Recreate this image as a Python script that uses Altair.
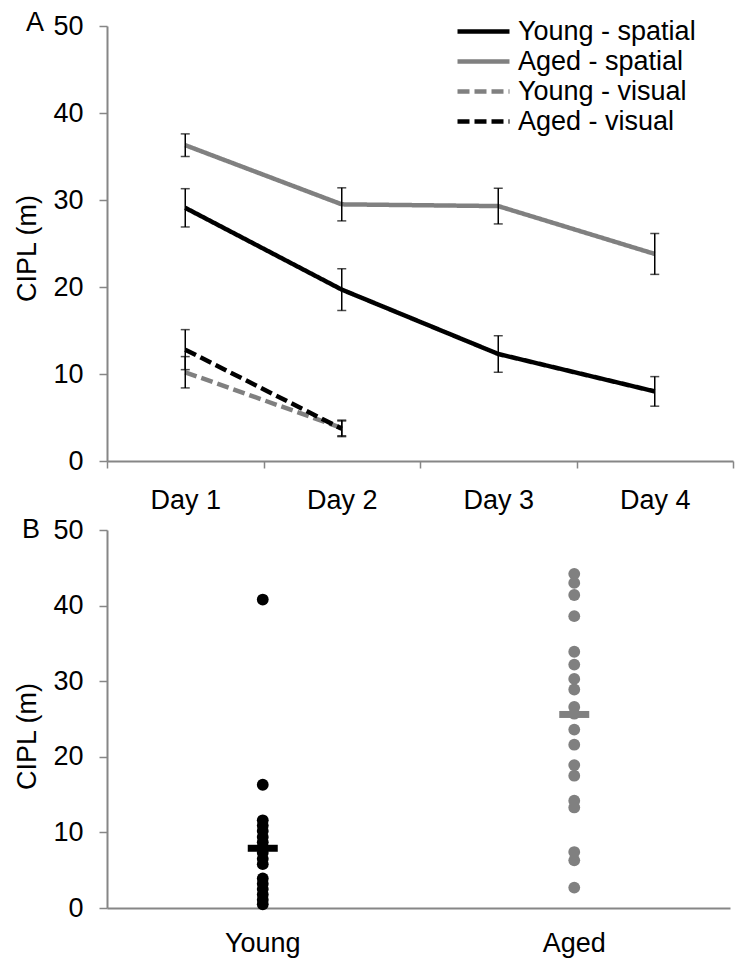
import altair as alt
import pandas as pd

# ---------------- data ----------------
days = ["Day 1", "Day 2", "Day 3", "Day 4"]
series_names = ["Young - spatial", "Aged - spatial", "Young - visual", "Aged - visual"]
series_colors = ["#000000", "#808080", "#808080", "#000000"]
series_dashes = [[1, 0], [1, 0], [12, 5], [12, 5]]

young_spatial = [29.1, 19.7, 12.3, 8.0]
young_spatial_err = [2.2, 2.4, 2.1, 1.7]
aged_spatial = [36.3, 29.5, 29.3, 23.8]
aged_spatial_err = [1.3, 1.9, 2.05, 2.35]
young_visual = [10.2, 3.8]
young_visual_err = [1.8, 0.9]
aged_visual = [12.8, 3.7]
aged_visual_err = [2.3, 0.9]

groups = ["Young", "Aged"]
group_colors = ["#000000", "#808080"]
young_cipl = [40.8, 16.3, 11.6, 10.9, 10.2, 9.4, 8.7, 8.0, 7.3, 6.5, 5.8,
              3.9, 3.2, 2.5, 1.8, 1.1, 0.5]
aged_cipl = [44.2, 43.0, 41.4, 38.6, 33.9, 32.2, 30.3, 28.9, 26.6, 25.7,
             23.6, 21.6, 18.9, 17.5, 14.2, 13.3, 7.4, 6.3, 2.7]
group_means = [7.9, 25.6]

panel_labels = ["A", "B"]
y_ticks = [0, 10, 20, 30, 40, 50]

FONT = "Liberation Sans"
FS = 27
AXIS_GREY = "#868686"

# ---------------- panel A ----------------
rows = []
for name, vals, errs in [
    (series_names[0], young_spatial, young_spatial_err),
    (series_names[1], aged_spatial, aged_spatial_err),
    (series_names[2], young_visual, young_visual_err),
    (series_names[3], aged_visual, aged_visual_err),
]:
    for d, v, e in zip(days, vals, errs):
        rows.append({"day": d, "series": name, "value": v, "lo": v - e, "hi": v + e})
dfA = pd.DataFrame(rows)

xA = alt.X(
    "day:N",
    sort=days,
    scale=alt.Scale(type="band", domain=days, paddingInner=0, paddingOuter=0),
    axis=alt.Axis(title=None, tickBand="extent", labelAngle=0, tickSize=7,
                  labelPadding=19, labelFontSize=FS),
)
yA_axis = alt.Axis(values=y_ticks, title="CIPL (m)", tickSize=8, labelPadding=16,
                   titlePadding=11, labelFontSize=FS, titleFontSize=FS, titleY=222)
yscale = alt.Scale(domain=[0, 50], nice=False)

legend = alt.Legend(
    title=None, orient="none", legendX=361, legendY=-10, symbolType="M-2,0H2",
    symbolSize=676, symbolStrokeWidth=4.5, labelFontSize=FS, labelFont=FONT,
    labelOffset=19, rowPadding=1, padding=0, labelColor="black", labelLimit=400,
)
color_enc = alt.Color("series:N", scale=alt.Scale(domain=series_names, range=series_colors),
                      legend=legend)
dash_enc = alt.StrokeDash("series:N", scale=alt.Scale(domain=series_names, range=series_dashes),
                          legend=legend)

base = alt.Chart(dfA)
lines = base.mark_line(strokeWidth=4.5).encode(
    x=xA,
    y=alt.Y("value:Q", scale=yscale, axis=yA_axis),
    color=color_enc,
    strokeDash=dash_enc,
    detail="series:N",
)
err_rule = base.mark_rule(color="black", strokeWidth=1.5).encode(
    x=xA, y=alt.Y("lo:Q", scale=yscale), y2="hi:Q"
)
err_lo = base.mark_tick(color="black", thickness=1.5, size=9).encode(
    x=xA, y=alt.Y("lo:Q", scale=yscale)
)
err_hi = base.mark_tick(color="black", thickness=1.5, size=9).encode(
    x=xA, y=alt.Y("hi:Q", scale=yscale)
)
labA = alt.Chart(pd.DataFrame({"t": [panel_labels[0]]})).mark_text(
    fontSize=FS, font=FONT, align="left", baseline="middle", color="black"
).encode(text="t:N", x=alt.value(-81), y=alt.value(-3))

panelA = alt.layer(lines, err_rule, err_lo, err_hi, labA).properties(width=626, height=435)

# ---------------- panel B ----------------
dfB = pd.DataFrame(
    [{"group": groups[0], "value": v} for v in young_cipl]
    + [{"group": groups[1], "value": v} for v in aged_cipl]
)
dfM = pd.DataFrame({"group": groups, "mean": group_means})

xB = alt.X(
    "group:N",
    sort=groups,
    scale=alt.Scale(type="band", domain=groups, paddingInner=0, paddingOuter=0),
    axis=alt.Axis(title=None, ticks=False, labelAngle=0, labelPadding=22, labelFontSize=FS),
)
yB_axis = alt.Axis(values=y_ticks, title="CIPL (m)", tickSize=8, labelPadding=16,
                   titlePadding=11, labelFontSize=FS, titleFontSize=FS, titleY=206)
gcolor = alt.Color("group:N", scale=alt.Scale(domain=groups, range=group_colors), legend=None)

dots = alt.Chart(dfB).mark_circle(size=140, opacity=1).encode(
    x=xB, y=alt.Y("value:Q", scale=yscale, axis=yB_axis), color=gcolor
)
means = alt.Chart(dfM).mark_tick(thickness=7, size=30, opacity=1).encode(
    x=xB, y=alt.Y("mean:Q", scale=yscale), color=gcolor
)
labB = alt.Chart(pd.DataFrame({"t": [panel_labels[1]]})).mark_text(
    fontSize=FS, font=FONT, align="left", baseline="middle", color="black"
).encode(text="t:N", x=alt.value(-85), y=alt.value(0))

panelB = alt.layer(dots, means, labB).properties(width=623, height=378)

chart = (
    alt.vconcat(panelA, panelB, spacing=3)
    .resolve_scale(color="independent", strokeDash="independent")
    .resolve_legend(color="independent", strokeDash="independent")
    .properties(padding={"left": 5, "top": 1, "right": 5, "bottom": 5})
    .configure_view(stroke=None)
    .configure_axis(
        grid=False,
        domainColor=AXIS_GREY,
        domainWidth=2,
        tickColor=AXIS_GREY,
        tickWidth=1.5,
        labelColor="black",
        titleColor="black",
        labelFont=FONT,
        titleFont=FONT,
        titleFontWeight="normal",
    )
    .configure_legend(labelFont=FONT)
)

chart.save("out.html", embed_options={"renderer": "svg", "actions": False})
